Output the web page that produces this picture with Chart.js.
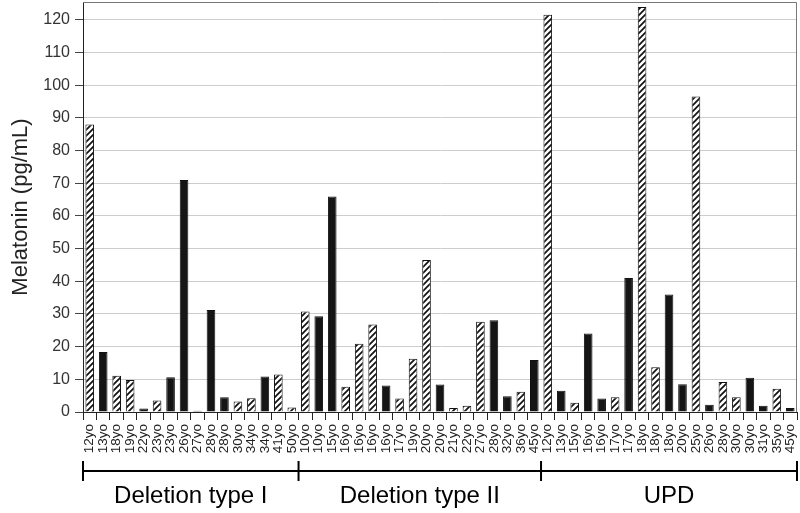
<!DOCTYPE html>
<html>
<head>
<meta charset="utf-8">
<script src="https://cdn.jsdelivr.net/npm/chart.js@4.4.1/dist/chart.umd.min.js"></script>
<style>
  html, body { margin: 0; padding: 0; background: #fff; }
  #wrap { width: 800px; height: 513px; }
</style>
</head>
<body>
<div id="wrap"><canvas id="melChart" width="800" height="513"></canvas></div>
<script>
// groups along the x axis
const groupNames = ['Deletion type I', 'Deletion type II', 'UPD'];
const groupSizes = [16, 18, 19];

// patient ages (one bar each)
const ages = [
    '12yo', '13yo', '18yo', '19yo', '22yo', '23yo', '23yo', '26yo', '27yo', '28yo', '28yo', '30yo', '34yo', '34yo', '41yo', '50yo',
    '10yo', '10yo', '15yo', '16yo', '16yo', '16yo', '16yo', '17yo', '19yo', '20yo', '20yo', '21yo', '22yo', '27yo', '28yo', '32yo', '36yo', '45yo',
    '12yo', '13yo', '15yo', '16yo', '16yo', '17yo', '17yo', '18yo', '18yo', '18yo', '20yo', '25yo', '26yo', '28yo', '30yo', '30yo', '31yo', '35yo', '45yo'
];

// melatonin (pg/mL)
const melatonin = [
    88, 18.4, 11.1, 9.8, 1.1, 3.5, 10.6, 71, 0.4, 31.2, 4.5, 3.2, 4.2, 10.9, 11.5, 1.4,
    30.8, 29.3, 66, 7.7, 20.9, 26.8, 8.1, 4.1, 16.3, 46.5, 8.4, 1.2, 1.9, 27.6, 28.1, 4.8, 6.2, 15.9,
    121.6, 6.5, 2.8, 24, 4.1, 4.5, 41, 124, 13.7, 36, 8.5, 96.6, 2.2, 9.2, 4.5, 10.5, 1.9, 7.1, 1.2
];

// h = hatched bar, s = solid bar
const barKind = [
    'h', 's', 'h', 'h', 's', 'h', 's', 's', 's', 's', 's', 'h', 'h', 's', 'h', 'h',
    'h', 's', 's', 'h', 'h', 'h', 's', 'h', 'h', 'h', 's', 'h', 'h', 'h', 's', 's', 'h', 's',
    'h', 's', 'h', 's', 's', 'h', 's', 'h', 'h', 's', 's', 'h', 's', 'h', 'h', 's', 's', 'h', 's'
];

const yTicks = [0, 10, 20, 30, 40, 50, 60, 70, 80, 90, 100, 110, 120];

function makeHatch() {
    const s = 6;
    const c = document.createElement('canvas');
    c.width = s;
    c.height = s;
    const g = c.getContext('2d');
    g.fillStyle = '#fff';
    g.fillRect(0, 0, s, s);
    g.strokeStyle = '#111';
    g.lineWidth = 1.7;
    g.beginPath();
    g.moveTo(-1, s + 1); g.lineTo(s + 1, -1);
    g.moveTo(-1, 1); g.lineTo(1, -1);
    g.moveTo(s - 1, s + 1); g.lineTo(s + 1, s - 1);
    g.stroke();
    return g.createPattern(c, 'repeat');
}

const hatch = makeHatch();
const font = '"Liberation Sans", Arial, sans-serif';

// brackets + group names under the age labels
const groupPlugin = {
    id: 'groups',
    afterDraw(chart) {
        const ctx = chart.ctx;
        const x = chart.scales.x;
        const area = chart.chartArea;
        const step = x.getPixelForValue(1) - x.getPixelForValue(0);
        let start = 0;
        const lineY = 471;
        ctx.save();
        // top and right frame of the plot
        ctx.strokeStyle = '#777';
        ctx.lineWidth = 1;
        ctx.beginPath();
        ctx.moveTo(area.left, area.top + 0.5);
        ctx.lineTo(area.right - 0.5, area.top + 0.5);
        ctx.lineTo(area.right - 0.5, area.bottom);
        ctx.stroke();

        ctx.strokeStyle = '#000';
        ctx.fillStyle = '#000';
        ctx.lineWidth = 2;
        ctx.font = '24px ' + font;
        ctx.textAlign = 'center';
        ctx.textBaseline = 'middle';
        const edges = [];
        groupSizes.forEach((n, i) => {
            const left = x.getPixelForValue(start) - step / 2;
            const right = x.getPixelForValue(start + n - 1) + step / 2;
            if (i === 0) edges.push(left);
            edges.push(right);
            ctx.fillText(groupNames[i], (left + right) / 2, 496);
            start += n;
        });
        ctx.beginPath();
        ctx.moveTo(edges[0], lineY);
        ctx.lineTo(edges[edges.length - 1], lineY);
        edges.forEach(e => {
            ctx.moveTo(e, lineY - 10);
            ctx.lineTo(e, lineY + 10);
        });
        ctx.stroke();
        ctx.restore();
    }
};

const ctx = document.getElementById('melChart').getContext('2d');
const melChart = new Chart(ctx, {
    type: 'bar',
    data: {
        labels: ages,
        datasets: [{
            data: melatonin,
            backgroundColor: barKind.map(k => k === 'h' ? hatch : '#151515'),
            borderColor: '#111',
            borderWidth: 1,
            barPercentage: 0.64,
            categoryPercentage: 1.0
        }]
    },
    options: {
        responsive: false,
        animation: false,
        layout: { padding: { top: 2, right: 3, left: 0, bottom: 0 } },
        plugins: {
            legend: { display: false },
            tooltip: { enabled: false }
        },
        scales: {
            x: {
                grid: {
                    offset: true,
                    drawOnChartArea: false,
                    drawTicks: true,
                    tickLength: 8,
                    color: '#222'
                },
                border: { color: '#222', width: 1 },
                ticks: {
                    autoSkip: false,
                    minRotation: 90,
                    maxRotation: 90,
                    padding: 4,
                    color: '#222',
                    font: { family: font, size: 13.5 }
                },
                afterFit(scale) {
                    scale.height = 101;
                    scale.paddingLeft = 0;
                    scale.paddingRight = 0;
                }
            },
            y: {
                min: 0,
                max: 125.5,
                afterBuildTicks(scale) {
                    scale.ticks = yTicks.map(v => ({ value: v }));
                },
                grid: {
                    color: '#cdcdcd',
                    tickColor: '#444',
                    tickLength: 8
                },
                border: { color: '#222', width: 1 },
                ticks: {
                    padding: 5,
                    color: '#333',
                    font: { family: font, size: 16 }
                },
                title: {
                    display: true,
                    text: 'Melatonin (pg/mL)',
                    color: '#222',
                    padding: { top: 8, bottom: 0 },
                    font: { family: font, size: 22 }
                },
                afterFit(scale) {
                    scale.width = 83;
                    scale.paddingTop = 0;
                    scale.paddingBottom = 0;
                }
            }
        }
    },
    plugins: [groupPlugin]
});
</script>
</body>
</html>
